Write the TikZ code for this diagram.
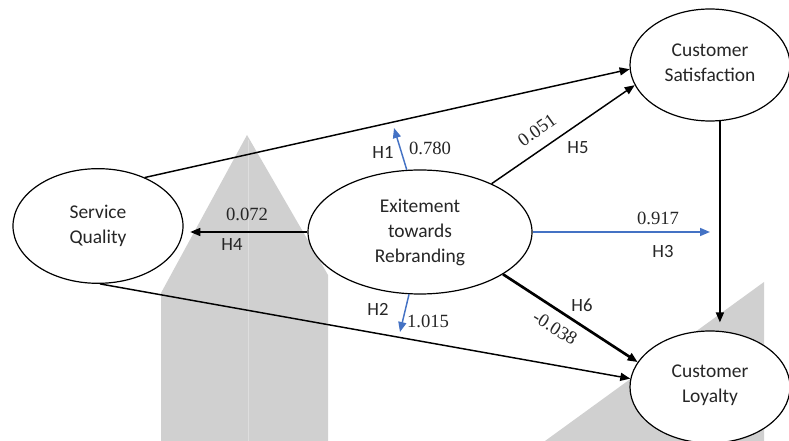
\documentclass[tikz,border=0pt]{standalone}
\usepackage{fontspec}
\setmainfont{Liberation Serif}
\newfontfamily\carlito{Carlito}
\usetikzlibrary{arrows.meta,shapes.geometric}
\definecolor{pathblue}{RGB}{68,114,196}
\definecolor{greyfill}{RGB}{208,208,208}

\begin{document}
\begin{tikzpicture}[x=0.75pt,y=-0.75pt,
  construct/.style={ellipse, draw, line width=0.9pt, fill=white, inner sep=0pt,
    font=\carlito\fontsize{14.6}{18.75}\selectfont, align=center, text=black!85},
  link/.style={line width=1.1pt, -{Triangle[length=7.5pt,width=6pt]}},
  bluelink/.style={link, color=pathblue},
  hyp/.style={font=\carlito\fontsize{14}{16}\selectfont, inner sep=0pt, text=black!85},
  coef/.style={font=\fontsize{14}{16}\selectfont, inner sep=0pt, text=black!85}]

\useasboundingbox (0,0) rectangle (789,441);

% grey background shapes
\fill[greyfill] (161,441) -- (161,293) -- (247,135) -- (328,275) -- (328,441) -- cycle;
\draw[greyfill!70!white, line width=0.5pt] (248,140) -- (248,441);
\fill[greyfill] (764,282) -- (764,441) -- (545,441) -- cycle;

% constructs
\node[construct, minimum width=127.5pt, minimum height=86pt] (sq) at (98,226) {Service\\Quality};
\node[construct, minimum width=168pt, minimum height=93pt] (ex) at (420,232) {Exitement\\towards\\Rebranding};
\node[construct, minimum width=120pt, minimum height=84pt] (cs) at (710,65) {Customer\\Satisfaction\vspace{3pt}};
\node[construct, minimum width=120pt, minimum height=84pt] (cl) at (710,387) {Customer\\Loyalty\vspace{3pt}};

% free ends of the blue paths
\coordinate (h1end) at (394,128);
\coordinate (h2end) at (400,332);
\coordinate (h3end) at (710,232);

% paths
\draw[link] (sq.46) -- (cs.183);
\draw[link] (ex.34) -- (cs.195);
\draw[link] (sq.-88) -- (cl.174);
\draw[link, line width=2pt] (ex.-27) -- (cl.161);
\draw[link, shorten >=5pt] (ex.west) -- (sq.east |- ex.west);
\draw[link, shorten >=6pt] (cs.-80) -- (cs.-80 |- cl.north);
\draw[bluelink] (ex.102) -- (h1end);
\draw[bluelink] (ex.260) -- (h2end);
\draw[bluelink] (ex.east) -- (h3end);

% labels
\node[coef] (c4) at (247,214) {0.072};
\node[hyp]  (l4) at (232,245) {H4};
\node[hyp]  (l1) at (383,152) {H1};
\node[coef] (c1) at (430,148) {0.780};
\node[coef, rotate=35.6] (c5) at (537,130) {0.051};
\node[hyp]  (l5) at (578,148) {H5};
\node[coef] (c3) at (658,218) {0.917};
\node[hyp]  (l3) at (663,252) {H3};
\node[hyp]  (l2) at (378,309) {H2};
\node[coef] (c2) at (428,321) {1.015};
\node[hyp]  (l6) at (582,305) {H6};
\node[coef, rotate=-32] (c6) at (555,328) {-0.038};
\end{tikzpicture}
\end{document}
